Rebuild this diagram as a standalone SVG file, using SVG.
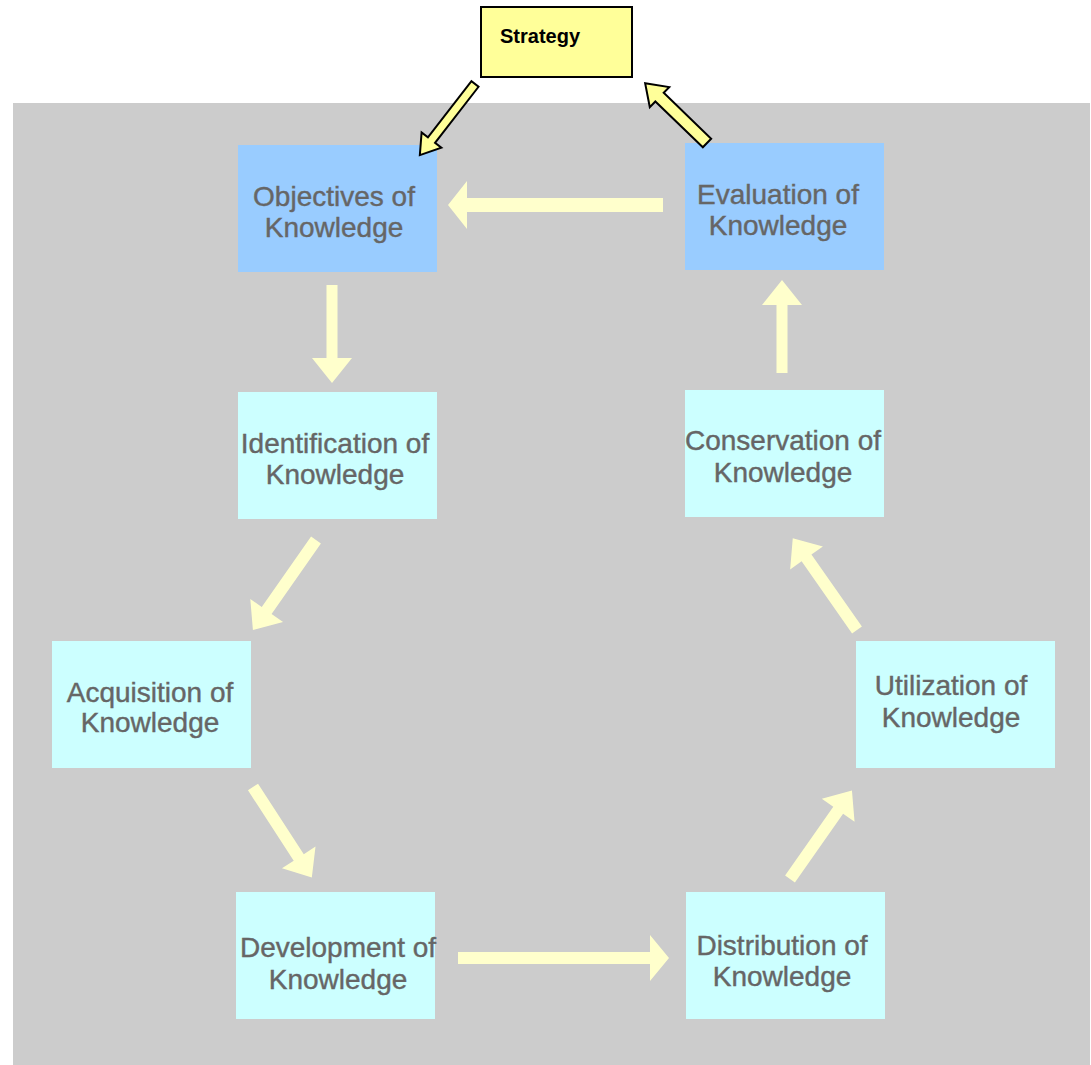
<svg xmlns="http://www.w3.org/2000/svg" width="1091" height="1065" viewBox="0 0 1091 1065">
  <style>
    .bg { fill: #CCCCCC; }
    .blue { fill: #99CCFF; }
    .cyan { fill: #CCFFFF; }
    .lbl { font-family: "Liberation Sans", Arial, sans-serif; font-size: 28px; fill: #666666; stroke: #666666; stroke-width: 0.4; text-anchor: middle; }
    .flow { fill: #FFFFCC; }
    .strat { fill: #FFFF99; stroke: #000000; stroke-width: 2; stroke-linejoin: miter; }
    .stxt { font-family: "Liberation Sans", Arial, sans-serif; font-size: 20px; font-weight: bold; fill: #000000; }
  </style>
  <rect width="1091" height="1065" fill="#FFFFFF"/>
  <rect class="bg" x="13" y="103" width="1077" height="962"/>

  <g id="strategy">
    <rect class="strat" x="481" y="7" width="151" height="70"/>
    <text class="stxt" x="500" y="43">Strategy</text>
  </g>

  <g id="objectives">
    <rect class="blue" x="238" y="145" width="199" height="127"/>
    <text class="lbl" x="334" y="206">Objectives of</text>
    <text class="lbl" x="334" y="237">Knowledge</text>
  </g>

  <g id="evaluation">
    <rect class="blue" x="685" y="143" width="199" height="127"/>
    <text class="lbl" x="778" y="204">Evaluation of</text>
    <text class="lbl" x="778" y="235">Knowledge</text>
  </g>

  <g id="identification">
    <rect class="cyan" x="238" y="392" width="199" height="127"/>
    <text class="lbl" x="335" y="453">Identification of</text>
    <text class="lbl" x="335" y="484">Knowledge</text>
  </g>

  <g id="conservation">
    <rect class="cyan" x="685" y="390" width="199" height="127"/>
    <text class="lbl" x="783" y="450">Conservation of</text>
    <text class="lbl" x="783" y="482">Knowledge</text>
  </g>

  <g id="acquisition">
    <rect class="cyan" x="52" y="641" width="199" height="127"/>
    <text class="lbl" x="150" y="702">Acquisition of</text>
    <text class="lbl" x="150" y="732">Knowledge</text>
  </g>

  <g id="utilization">
    <rect class="cyan" x="856" y="641" width="199" height="127"/>
    <text class="lbl" x="951" y="695">Utilization of</text>
    <text class="lbl" x="951" y="727">Knowledge</text>
  </g>

  <g id="development">
    <rect class="cyan" x="236" y="892" width="199" height="127"/>
    <text class="lbl" x="338" y="957">Development of</text>
    <text class="lbl" x="338" y="989">Knowledge</text>
  </g>

  <g id="distribution">
    <rect class="cyan" x="686" y="892" width="199" height="127"/>
    <text class="lbl" x="782" y="955">Distribution of</text>
    <text class="lbl" x="782" y="986">Knowledge</text>
  </g>

  <g id="connectors">
    <polygon class="flow" transform="translate(663,205) rotate(180)" points="0,-7 196,-7 196,-24 215,0 196,24 196,7 0,7"/>
    <polygon class="flow" transform="translate(332,285) rotate(90)" points="0,-5.5 73,-5.5 73,-20 98,0 73,20 73,5.5 0,5.5"/>
    <polygon class="flow" transform="translate(316,540) rotate(125)" points="0,-6 86,-6 86,-20 110,0 86,20 86,6 0,6"/>
    <polygon class="flow" transform="translate(253,787) rotate(57)" points="0,-6 84,-6 84,-20 108,0 84,20 84,6 0,6"/>
    <polygon class="flow" transform="translate(458,958)" points="0,-6 192,-6 192,-23 211,0 192,23 192,6 0,6"/>
    <polygon class="flow" transform="translate(790,879) rotate(-55)" points="0,-6 84,-6 84,-20 108,0 84,20 84,6 0,6"/>
    <polygon class="flow" transform="translate(857,630) rotate(-125)" points="0,-6 88,-6 88,-20 112,0 88,20 88,6 0,6"/>
    <polygon class="flow" transform="translate(782,373) rotate(-90)" points="0,-5.5 68,-5.5 68,-20 93,0 68,20 68,5.5 0,5.5"/>
    <polygon class="strat" transform="translate(475,84) rotate(127.8)" points="0,-4.5 71,-4.5 71,-12.5 90,0 71,12.5 71,4.5 0,4.5"/>
    <polygon class="strat" transform="translate(707,143) rotate(-136)" points="0,-6 66,-6 66,-14 86,0 66,14 66,6 0,6"/>
  </g>
</svg>
